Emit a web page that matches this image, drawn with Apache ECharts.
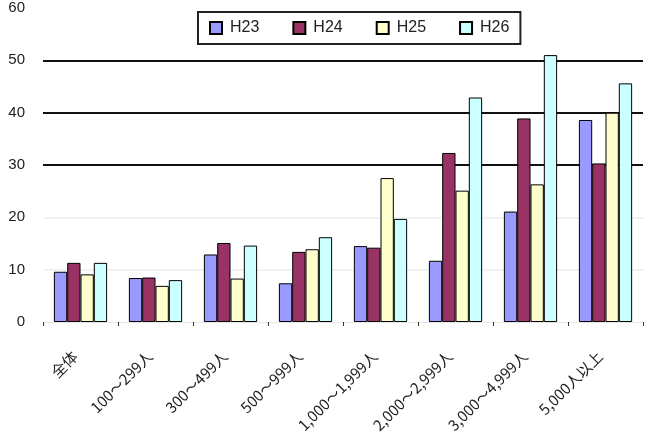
<!DOCTYPE html>
<html>
<head>
<meta charset="utf-8">
<script src="https://cdn.jsdelivr.net/npm/echarts@6/dist/echarts.min.js"></script>
<style>
  html, body { margin: 0; padding: 0; background: #fff; }
  #chart { width: 650px; height: 442px; }
</style>
</head>
<body>
<div id="chart"></div>
<script>
// 事業所規模別の推移
const categories = ['全体', '100～299人', '300～499人', '500～999人', '1,000～1,999人', '2,000～2,999人', '3,000～4,999人', '5,000人以上']
const seriesNames = ['H23', 'H24', 'H25', 'H26']
const h23 = [9.6, 8.4, 12.9, 7.4, 14.5, 11.7, 21.1, 38.6]
const h24 = [11.3, 8.5, 15.1, 13.4, 14.2, 32.3, 38.9, 30.3]
const h25 = [9.1, 6.9, 8.3, 13.9, 27.5, 25.1, 26.3, 40.0]
const h26 = [11.3, 8.0, 14.6, 16.2, 19.7, 42.9, 51.0, 45.6]
const colors = ['#9999ff', '#993366', '#ffffcc', '#ccffff']

const chart = echarts.init(document.getElementById('chart'))

const values = [h23, h24, h25, h26]
const series = seriesNames.map((name, i) => ({
  name,
  type: 'bar',
  data: values[i],
  barGap: '0%',
  barCategoryGap: '29%',
  itemStyle: { color: colors[i], borderColor: '#000', borderWidth: 1 }
}))

chart.setOption({
  animation: false,
  textStyle: { fontFamily: '"Liberation Sans", "Noto Sans CJK JP", sans-serif' },
  legend: {
    left: 198,
    top: 12,
    width: 320,
    height: 34,
    padding: [8, 11],
    itemGap: 33,
    itemWidth: 12,
    itemHeight: 12,
    icon: 'rect',
    borderColor: '#222',
    borderWidth: 2,
    textStyle: { fontSize: 16, color: '#222', padding: [0, 0, 0, 3] },
    data: seriesNames
  },
  grid: { left: 43, right: 7, top: 8, bottom: 120, containLabel: false },
  xAxis: {
    type: 'category',
    data: categories,
    axisLine: { show: true, lineStyle: { color: '#e6e6e6' } },
    axisTick: { show: true, length: 4, lineStyle: { color: '#333' } },
    axisLabel: {
      rotate: 45,
      interval: 0,
      margin: 26,
      padding: [0, 8, 0, 0],
      fontSize: 15,
      color: '#222',
      fontFamily: '"Noto Sans CJK JP", sans-serif'
    }
  },
  yAxis: {
    type: 'value',
    min: 0,
    max: 60,
    interval: 10,
    axisLine: { show: false },
    axisTick: { show: false },
    axisLabel: { fontSize: 15, color: '#222', margin: 18 },
    splitLine: {
      show: true,
      lineStyle: {
        color: ['transparent', '#f2f2f2', '#f2f2f2', '#111', '#111', '#111', 'transparent'],
        width: 2
      }
    }
  },
  series
})

window.addEventListener('resize', () => chart.resize())
</script>
</body>
</html>
